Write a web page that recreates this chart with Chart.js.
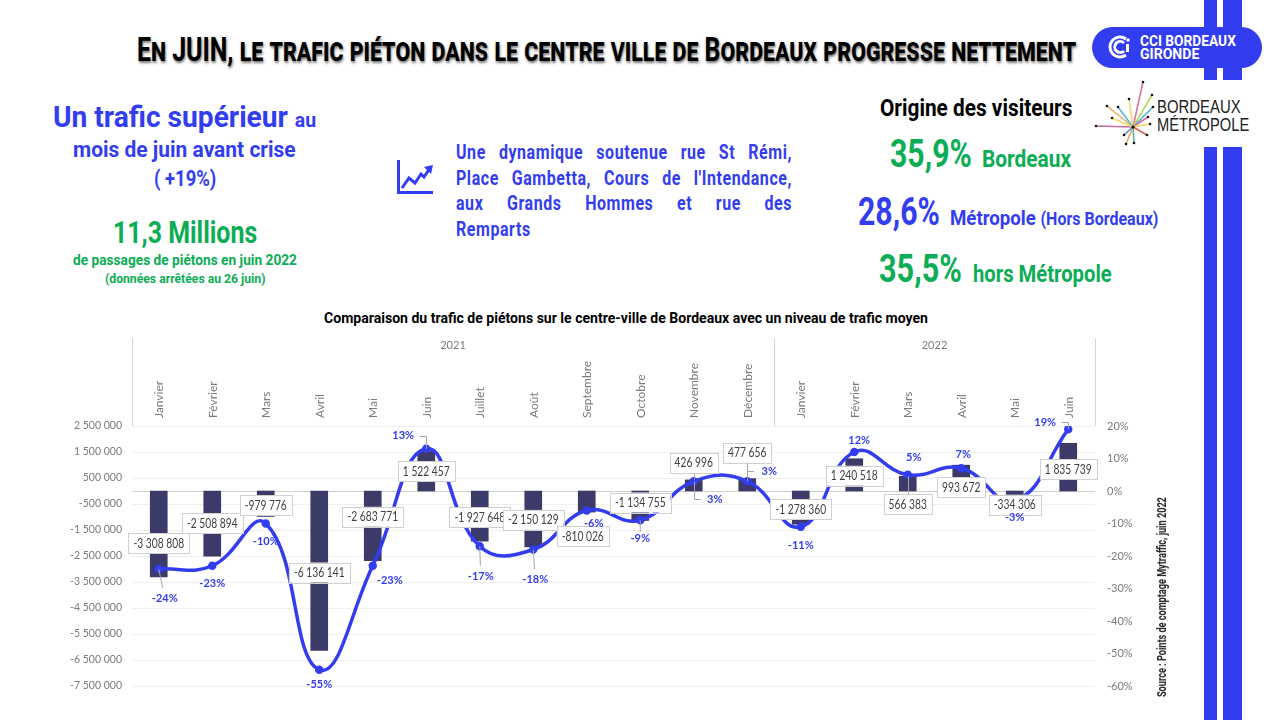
<![CDATA[<!DOCTYPE html>
<html lang="fr">
<head>
    <meta charset="UTF-8">
    <title>Trafic piéton Bordeaux</title>
    <script src="https://cdn.jsdelivr.net/npm/chart.js"></script>
    <style>
        html, body { margin: 0; padding: 0; background: #fff; }
        #page { position: relative; width: 1280px; height: 720px; overflow: hidden; font-family: Roboto, sans-serif; font-weight: bold; }
        .t { position: absolute; white-space: nowrap; line-height: 1; transform-origin: left center; }
        .blue { color: #333df0; }
        .green { color: #0bad55; }
        .stripe { position: absolute; background: #333df0; }
        #chartBox { position: absolute; left: 0; top: 338px; }
        #dyn { position: absolute; left: 456px; top: 140px; width: 420px; font-size: 20px; line-height: 25.7px; letter-spacing: 0.7px; transform: scaleX(0.8); transform-origin: left top; }
        #dyn div { text-align: justify; text-align-last: justify; }
        #dyn div:last-child { text-align-last: left; }
    </style>
</head>
<body>
<div id="page">
    <div class="stripe" style="left:1204px;top:0;width:13px;height:80px"></div>
    <div class="stripe" style="left:1223px;top:0;width:19px;height:80px"></div>
    <div class="stripe" style="left:1204px;top:147px;width:13px;height:573px"></div>
    <div class="stripe" style="left:1223px;top:147px;width:19px;height:573px"></div>

    <div class="t" data-w="939" style="left:137px;top:33px;font-size:33px;font-variant:small-caps;text-shadow:1px 2px 3px #777;color:#000">En JUIN, le trafic piéton dans le centre ville de Bordeaux progresse nettement</div>

    <!-- logo CCI -->
    <div style="position:absolute;left:1092px;top:27px;width:170px;height:41px;border-radius:21px;background:#333df0"></div>
    <svg style="position:absolute;left:1106px;top:33px" width="28" height="28" viewBox="0 0 28 28">
        <path d="M20 6 A10 10 0 1 0 20 22" fill="none" stroke="#fff" stroke-width="3"/>
        <path d="M18 10 A5.5 5.5 0 1 0 18 18" fill="none" stroke="#fff" stroke-width="3"/>
        <rect x="20" y="11" width="3" height="8" fill="#fff"/><circle cx="22" cy="7" r="1.8" fill="#fff"/>
    </svg>
    <div class="t" data-w="96" style="left:1140px;top:34px;font-size:15px;color:#fff">CCI BORDEAUX</div>
    <div class="t" data-w="59" style="left:1140px;top:47px;font-size:15px;color:#fff">GIRONDE</div>

    <!-- bloc gauche -->
    <div class="t blue" data-w="263" style="left:53px;top:103px;font-size:29px">Un trafic supérieur <span style="font-size:20px">au</span></div>
    <div class="t blue" data-w="223" style="left:73px;top:139px;font-size:22px">mois de juin avant crise</div>
    <div class="t blue" data-w="62" style="left:154px;top:168px;font-size:22px">( +19%)</div>
    <div class="t green" data-w="144" style="left:113px;top:216px;font-size:32px">11,3 Millions</div>
    <div class="t green" data-w="224" style="left:73px;top:253px;font-size:14px">de passages de piétons en juin 2022</div>
    <div class="t green" data-w="160" style="left:105px;top:273px;font-size:12.5px">(données arrêtées au 26 juin)</div>

    <!-- bloc milieu -->
    <svg style="position:absolute;left:396px;top:158px" width="38" height="38" viewBox="0 0 38 38">
        <path d="M2.5 2 V34.5 H37" fill="none" stroke="#333df0" stroke-width="3"/>
        <path d="M6 30 L13 20 L19 25 L25 16 L28 19 L34 10" fill="none" stroke="#333df0" stroke-width="3"/>
        <path d="M28 9 L37 7 L35 16 Z" fill="#333df0"/>
    </svg>
    <div id="dyn" class="blue">
        <div>Une dynamique soutenue rue St Rémi,</div>
        <div>Place Gambetta, Cours de l'Intendance,</div>
        <div>aux Grands Hommes et rue des</div>
        <div>Remparts</div>
    </div>

    <!-- bloc droite -->
    <div class="t" data-w="192" style="left:880px;top:97px;font-size:23px;color:#000">Origine des visiteurs</div>
    <div class="t green" data-w="82" style="left:890px;top:135px;font-size:38px">35,9%</div>
    <div class="t green" data-w="89" style="left:982px;top:148px;font-size:23px">Bordeaux</div>
    <div class="t blue" data-w="82" style="left:858px;top:193px;font-size:38px">28,6%</div>
    <div class="t blue" data-w="208" style="left:950px;top:208px;font-size:21px">Métropole <span style="font-size:18px">(Hors Bordeaux)</span></div>
    <div class="t green" data-w="83" style="left:879px;top:250px;font-size:38px">35,5%</div>
    <div class="t green" data-w="139" style="left:973px;top:263px;font-size:23px">hors Métropole</div>

    <!-- logo Bordeaux Métropole -->
    <svg style="position:absolute;left:1090px;top:78px" width="70" height="70" viewBox="1090 78 70 70" stroke-width="1.6">
        <g fill="none">
            <path d="M1133 127 L1143 82" stroke="#d9739c"/><path d="M1133 127 L1096 126" stroke="#c46aa0"/>
            <path d="M1133 127 L1107 106" stroke="#eda95b"/><path d="M1133 127 L1129 99" stroke="#f0d860"/>
            <path d="M1133 127 L1118 107" stroke="#4fb6d8"/><path d="M1133 127 L1152 95" stroke="#b9d65c"/>
            <path d="M1133 127 L1153 107" stroke="#4fb6d8"/><path d="M1133 127 L1148 117" stroke="#d9739c"/>
            <path d="M1133 127 L1150 124" stroke="#f0d860"/><path d="M1133 127 L1147 135" stroke="#d8604c"/>
            <path d="M1133 127 L1134 143" stroke="#5ab5a0"/><path d="M1133 127 L1126 144" stroke="#eda95b"/>
            <path d="M1133 127 L1124 135" stroke="#4f8fd8"/><path d="M1133 127 L1112 118" stroke="#f0d860"/>
        </g>
        <g fill="#111">
            <circle cx="1143" cy="82" r="1.3"/><circle cx="1096" cy="126" r="1.3"/><circle cx="1107" cy="106" r="1.3"/>
            <circle cx="1129" cy="99" r="1.3"/><circle cx="1118" cy="107" r="1.3"/><circle cx="1152" cy="95" r="1.3"/>
            <circle cx="1153" cy="107" r="1.3"/><circle cx="1148" cy="117" r="1.3"/><circle cx="1150" cy="124" r="1.3"/>
            <circle cx="1147" cy="135" r="1.3"/><circle cx="1134" cy="143" r="1.3"/><circle cx="1126" cy="144" r="1.3"/>
            <circle cx="1124" cy="135" r="1.3"/><circle cx="1112" cy="118" r="1.3"/><circle cx="1133" cy="127" r="1.6"/>
        </g>
    </svg>
    <div class="t" data-w="84" style="left:1157px;top:97px;font-family:'Liberation Sans';font-weight:400;font-size:19px;color:#222">BORDEAUX</div>
    <div class="t" data-w="92" style="left:1157px;top:115px;font-family:'Liberation Sans';font-weight:400;font-size:19px;color:#222">MÉTROPOLE</div>

    <div class="t" data-w="604" style="left:324px;top:312px;font-size:14.5px;color:#000">Comparaison du trafic de piétons sur le centre-ville de Bordeaux avec un niveau de trafic moyen</div>

    <div id="chartBox"><canvas id="traficChart" width="1200" height="374" style="display:block"></canvas></div>

    <div class="t" id="source" style="left:1162px;top:597px;font-size:12px;color:#222">Source : Points de comptage Mytraffic, juin 2022</div>
</div>

<script>
    const months = ['Janvier', 'Février', 'Mars', 'Avril', 'Mai', 'Juin', 'Juillet', 'Août', 'Septembre', 'Octobre', 'Novembre', 'Décembre',
        'Janvier', 'Février', 'Mars', 'Avril', 'Mai', 'Juin'];
    const years = ['2021', '2022'];
    const yearLengths = [12, 6];
    const passages = [-3308808, -2508894, -979776, -6136141, -2683771, 1522457, -1927648, -2150129, -810026, -1134755, 426996, 477656,
        -1278360, 1240518, 566383, 993672, -334306, 1835739];
    const evolution = [-24, -23, -10, -55, -23, 13, -17, -18, -6, -9, 3, 3, -11, 12, 5, 7, -3, 19];

    // decalage des etiquettes par rapport au point, en px (calage a la main)
    const barLabelShift = [-34, -33, -11, -78, -44, 20, -24, -27, 24, -18, -17, -26, -15, 17, 28, 22, 5, 26];
    const barLabelShiftX = [0, 0, 0, 0, 0, 0, 0, 0, -4, 0, 0, 0, 0, 0, 0, 0, 0, 0];
    const pctLabelShift = [[6, 29], [0, 18], [0, 18], [0, 15], [17, 15], [-23, -13], [1, 30], [2, 30], [7, 13], [0, 18], [21, 18], [22, -10],
        [0, 19], [5, -12], [6, -17], [2, -14], [0, 17], [-23, -7]];
    // traits de rappel : droits, coudes, et depuis l'etiquette de barre
    const straightLeaders = [0, 6, 7, 9];
    const elbowLeaders = [5, 10, 11, 17];
    const barLeaders = [10, 11, 14];

    const fmt = v => String(v).replace(/\B(?=(\d{3})+(?!\d))/g, ' ');

    // resserre les textes html a la largeur voulue (pas de police etroite installee)
    document.querySelectorAll('.t[data-w]').forEach(el => {
        el.style.transform = 'scaleX(' + (el.dataset.w / el.offsetWidth) + ')';
    });
    const source = document.getElementById('source');
    source.style.transformOrigin = 'center';
    source.style.transform = 'translate(-50%,-50%) rotate(-90deg) scaleX(' + (200 / source.offsetWidth) + ')';

    const decorPlugin = {
        id: 'decor',
        // en-tete a deux niveaux : annees et separateurs
        beforeDatasetsDraw(chart) {
            const { ctx, scales: { x } } = chart;
            ctx.save();
            ctx.strokeStyle = '#d4d4d4';
            ctx.lineWidth = 1;
            ctx.fillStyle = '#7a7a7a';
            ctx.font = '11px Lato';
            ctx.textAlign = 'center';
            ctx.textBaseline = 'middle';
            let start = 0;
            let left = x.left;
            ctx.beginPath();
            ctx.moveTo(left + 0.5, x.top);
            ctx.lineTo(left + 0.5, x.bottom);
            years.forEach((year, i) => {
                const end = start + yearLengths[i];
                const right = end < months.length ? (x.getPixelForValue(end - 1) + x.getPixelForValue(end)) / 2 : x.right;
                ctx.moveTo(right + 0.5, x.top);
                ctx.lineTo(right + 0.5, x.bottom);
                ctx.fillText(year, (left + right) / 2, x.top + 7);
                start = end;
                left = right;
            });
            ctx.stroke();
            ctx.restore();
        },
        // etiquettes de donnees
        afterDatasetsDraw(chart) {
            const { ctx } = chart;
            const bars = chart.getDatasetMeta(1).data;
            const points = chart.getDatasetMeta(0).data;
            ctx.save();
            ctx.textBaseline = 'middle';
            ctx.textAlign = 'center';

            // traits de rappel
            ctx.strokeStyle = '#a6a6a6';
            ctx.lineWidth = 1;
            ctx.beginPath();
            straightLeaders.forEach(i => {
                const [dx, dy] = pctLabelShift[i];
                ctx.moveTo(points[i].x, points[i].y);
                ctx.lineTo(points[i].x + dx * 0.65, points[i].y + dy * 0.65);
            });
            elbowLeaders.forEach(i => {
                const [dx, dy] = pctLabelShift[i];
                const px = Math.round(points[i].x) + 0.5;
                const ly = Math.round(points[i].y + dy) + 0.5;
                ctx.moveTo(px, points[i].y);
                ctx.lineTo(px, ly);
                ctx.lineTo(px + dx * 0.3, ly);
            });
            barLeaders.forEach(i => {
                const px = Math.round(bars[i].x) + 0.5;
                ctx.moveTo(px, bars[i].y);
                ctx.lineTo(px, bars[i].y + barLabelShift[i]);
            });
            ctx.stroke();

            ctx.font = '12.5px Lato';
            bars.forEach((b, i) => {
                const label = fmt(passages[i]);
                const tw = ctx.measureText(label).width * 0.82;
                const w = tw + 10;
                const h = 20;
                const cx = b.x + barLabelShiftX[i];
                const cy = b.y + barLabelShift[i];
                ctx.fillStyle = '#fff';
                ctx.strokeStyle = '#d0d0d0';
                ctx.fillRect(cx - w / 2, cy - h / 2, w, h);
                ctx.strokeRect(Math.round(cx - w / 2) + 0.5, Math.round(cy - h / 2) + 0.5, Math.round(w), h);
                ctx.fillStyle = '#404040';
                ctx.fillText(label, cx, cy + 0.5, tw);
            });

            ctx.font = 'bold 11px Lato';
            ctx.fillStyle = '#333df0';
            points.forEach((p, i) => {
                const [dx, dy] = pctLabelShift[i];
                ctx.fillText(evolution[i] + '%', p.x + dx, p.y + dy);
            });
            ctx.restore();
        }
    };

    new Chart(document.getElementById('traficChart').getContext('2d'), {
        type: 'bar',
        data: {
            labels: months,
            datasets: [
                {
                    type: 'line',
                    label: 'Evolution',
                    data: evolution,
                    yAxisID: 'y1',
                    borderColor: '#333df0',
                    backgroundColor: '#333df0',
                    borderWidth: 3.5,
                    pointRadius: 2.5,
                    tension: 0.45,
                    order: 1
                },
                {
                    label: 'Passages',
                    data: passages,
                    yAxisID: 'y',
                    backgroundColor: '#3b3a68',
                    barThickness: 17,
                    order: 2
                }
            ]
        },
        options: {
            responsive: false,
            animation: false,
            layout: { padding: { left: 60, right: 65, top: 0, bottom: 26 } },
            plugins: {
                legend: { display: false },
                tooltip: { enabled: false }
            },
            scales: {
                x: {
                    position: 'top',
                    grid: { display: false },
                    border: { display: false },
                    ticks: {
                        color: '#7a7a7a',
                        font: { family: 'Lato', size: 12 },
                        minRotation: 90,
                        maxRotation: 90,
                        autoSkip: false,
                        labelOffset: 15,
                        padding: 0
                    },
                    afterFit(scale) { scale.height = 88; }
                },
                y: {
                    min: -7500000,
                    max: 2500000,
                    ticks: {
                        stepSize: 1000000,
                        color: '#7a7a7a',
                        font: { family: 'Lato', size: 10.5 },
                        padding: 10,
                        callback: v => fmt(v)
                    },
                    grid: { color: '#efefef', drawTicks: false },
                    border: { display: false },
                    afterFit(scale) { scale.width = 72; }
                },
                y1: {
                    position: 'right',
                    min: -60,
                    max: 20,
                    ticks: {
                        stepSize: 10,
                        color: '#7a7a7a',
                        font: { family: 'Lato', size: 11 },
                        padding: 12,
                        callback: v => v + '%'
                    },
                    grid: {
                        drawTicks: false,
                        color: ctx => (ctx.tick && ctx.tick.value === 0 ? '#cfcfcf' : 'transparent')
                    },
                    border: { display: false },
                    afterFit(scale) { scale.width = 40; }
                }
            }
        },
        plugins: [decorPlugin]
    });
</script>
</body>
</html>
]]>
